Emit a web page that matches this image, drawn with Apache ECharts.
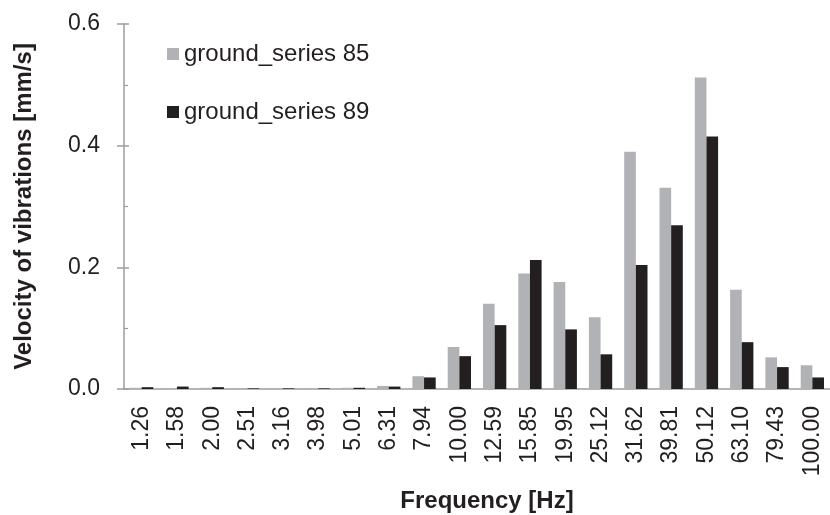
<!DOCTYPE html>
<html>
<head>
<meta charset="utf-8">
<script src="https://cdn.jsdelivr.net/npm/echarts@6/dist/echarts.min.js"></script>
<style>html,body{margin:0;padding:0;background:#fff}#c{width:830px;height:515px}</style>
</head>
<body>
<div id="c"></div>
<script>
var categories = ['1.26','1.58','2.00','2.51','3.16','3.98','5.01','6.31','7.94','10.00','12.59','15.85','19.95','25.12','31.62','39.81','50.12','63.10','79.43','100.00'];
var series85 = [0.002,0.001,0.002,0.001,0.0005,0.0005,0.002,0.005,0.021,0.069,0.140,0.190,0.176,0.118,0.390,0.331,0.512,0.163,0.052,0.039];
var series89 = [0.003,0.004,0.003,0.001,0.001,0.001,0.002,0.004,0.019,0.054,0.105,0.212,0.098,0.057,0.204,0.269,0.415,0.077,0.036,0.019];
var yTicks = [0, 0.2, 0.4, 0.6];

var FONT = 'Liberation Sans, Arial, sans-serif';
var TXT = '#231f20';
var AX = '#9d9d9d';
var chart = echarts.init(document.getElementById('c'), null, {renderer: 'canvas'});
chart.setOption({
  animation: false,
  textStyle: {fontFamily: FONT, color: TXT},
  legend: {
    orient: 'vertical', left: 162, top: 37, itemWidth: 12, itemHeight: 12, itemGap: 34,
    icon: 'rect',
    textStyle: {fontFamily: FONT, fontSize: 24, color: TXT}
  },
  grid: {left: 124, top: 24, width: 709, height: 365, containLabel: false},
  xAxis: {
    type: 'category', data: categories,
    axisLine: {lineStyle: {color: AX, width: 1.5}},
    axisTick: {show: false},
    axisLabel: {rotate: 90, fontSize: 23, color: TXT, fontFamily: FONT, margin: 17, interval: 0}
  },
  yAxis: [{
    type: 'value', min: 0, max: 0.6, interval: 0.2,
    axisLine: {show: true, lineStyle: {color: AX, width: 1.5}},
    axisTick: {show: true, length: 7, lineStyle: {color: AX, width: 1.5}},
    splitLine: {show: false},
    axisLabel: {fontSize: 23, color: TXT, fontFamily: FONT, margin: 24,
      formatter: function (v) { return yTicks.indexOf(Math.round(v*10)/10) >= 0 ? v.toFixed(1) : ''; }},
    name: 'Velocity of vibrations [mm/s]', nameLocation: 'middle', nameGap: 88,
    nameTextStyle: {fontSize: 24, fontWeight: 'bold', color: TXT, fontFamily: FONT}
  }, {
    type: 'value', min: 0, max: 0.6, interval: 0.2, position: 'left',
    axisLine: {show: false},
    axisTick: {show: true, inside: true, length: 5, lineStyle: {color: AX, width: 1.5}},
    minorTick: {show: true, splitNumber: 2, length: 4, lineStyle: {color: AX, width: 1.2}},
    axisLabel: {show: false},
    splitLine: {show: false}
  }],
  graphic: [{
    type: 'text', x: 487, y: 501,
    style: {text: 'Frequency [Hz]', fontSize: 24, fontWeight: 'bold', fill: TXT, fontFamily: FONT, align: 'center', verticalAlign: 'middle'}
  }],
  series: [{
    name: 'ground_series 85', type: 'bar', data: series85, barGap: '0%', barCategoryGap: '34%',
    itemStyle: {color: '#b1b2b6'}
  }, {
    name: 'ground_series 89', type: 'bar', data: series89, barGap: '0%', barCategoryGap: '34%',
    itemStyle: {color: '#231f20'}
  }]
});
</script>
</body>
</html>
